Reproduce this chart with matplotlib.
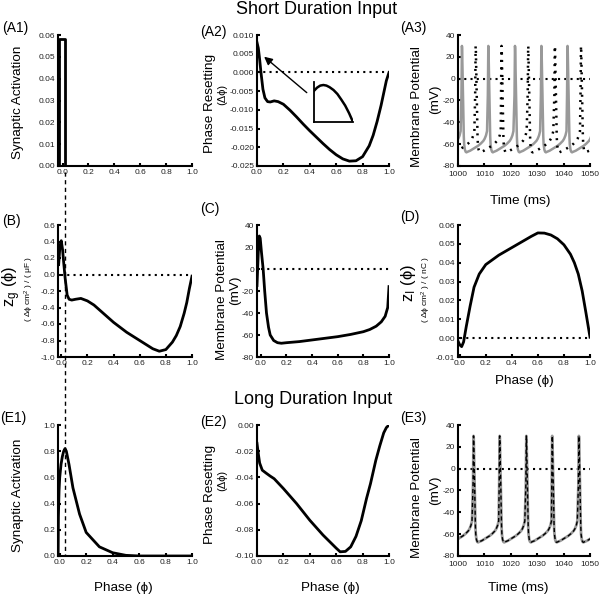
import matplotlib
matplotlib.use('Agg')
import matplotlib.pyplot as plt
from matplotlib.lines import Line2D

plt.rcParams['font.family'] = ['Liberation Sans', 'DejaVu Sans']
plt.rcParams['axes.unicode_minus'] = False
plt.rcParams['mathtext.fontset'] = 'custom'
plt.rcParams['mathtext.rm'] = 'Liberation Sans'
plt.rcParams['mathtext.it'] = 'Liberation Sans'

# ---------------- data ----------------
phase_ticks = [0.0, 0.2, 0.4, 0.6, 0.8, 1.0]
time_ticks = [1000, 1010, 1020, 1030, 1040, 1050]
mv_ticks = [-80, -60, -40, -20, 0, 20, 40]

# A1 short synaptic activation (pulse)
a1_phase = [-0.03, -0.03, 0.02, 0.02, 1.0]
a1_act = [0.0, 0.058, 0.058, 0.0, 0.0]
a1_yticks = [0.00, 0.01, 0.02, 0.03, 0.04, 0.05, 0.06]

# A2 phase resetting (short)
a2_phase = [0.0, 0.01, 0.02, 0.03, 0.045, 0.06, 0.08, 0.1, 0.13, 0.16, 0.2, 0.25,
            0.3, 0.35, 0.4, 0.45, 0.5, 0.55, 0.6, 0.65, 0.7, 0.75, 0.8, 0.85,
            0.88, 0.91, 0.94, 0.96, 0.98, 1.0]
a2_reset = [0.008, 0.0065, 0.0035, 0.0, -0.0045, -0.0068, -0.0078, -0.0079, -0.0076,
            -0.0078, -0.0085, -0.0101, -0.0119, -0.0138, -0.0156, -0.0173, -0.019,
            -0.0206, -0.022, -0.0231, -0.0237, -0.0236, -0.0225, -0.0196, -0.0168,
            -0.0131, -0.0088, -0.0055, -0.0022, 0.0]
a2_yticks = [-0.025, -0.020, -0.015, -0.010, -0.005, 0.000, 0.005, 0.010]

# inset sketch in A2
inset_x = [0.0, 0.08, 0.16, 0.24, 0.32, 0.4, 0.5, 0.6, 0.7, 0.8, 0.9, 1.0]
inset_y = [0.78, 0.86, 0.91, 0.925, 0.91, 0.87, 0.8, 0.7, 0.56, 0.41, 0.22, 0.0]

# B z_g(phi)
b_phase = [-0.02, -0.01, 0.0, 0.01, 0.02, 0.03, 0.045, 0.06, 0.08, 0.11, 0.15, 0.2,
           0.25, 0.3, 0.35, 0.4, 0.45, 0.5, 0.55, 0.6, 0.65, 0.7, 0.75, 0.8, 0.85,
           0.88, 0.91, 0.94, 0.96, 0.98, 1.0]
b_zg = [0.12, 0.35, 0.41, 0.3, 0.12, -0.05, -0.25, -0.3, -0.31, -0.3, -0.29, -0.32,
        -0.37, -0.44, -0.51, -0.58, -0.64, -0.7, -0.75, -0.8, -0.85, -0.9, -0.93,
        -0.91, -0.82, -0.74, -0.63, -0.47, -0.34, -0.17, -0.02]
b_yticks = [-1.0, -0.8, -0.6, -0.4, -0.2, 0.0, 0.2, 0.4, 0.6]

# C membrane potential over one cycle
c_phase = [-0.03, -0.02, -0.012, -0.005, 0.005, 0.018, 0.03, 0.044, 0.06, 0.073,
           0.1, 0.13, 0.16, 0.2, 0.3, 0.4, 0.5, 0.6, 0.7, 0.8, 0.85, 0.9, 0.94,
           0.97, 0.99, 1.0]
c_mv = [-15, 15, 30, 28, 15, 0, -20, -40, -53, -60, -65, -67, -67.5, -67, -66,
        -64.5, -63, -61.5, -59.5, -57, -55, -52, -48, -43, -35, -16]

# D z_I(phi)
d_phase = [-0.01, 0.0, 0.015, 0.03, 0.05, 0.08, 0.11, 0.15, 0.2, 0.25, 0.3, 0.35,
           0.4, 0.45, 0.5, 0.55, 0.6, 0.65, 0.7, 0.75, 0.8, 0.85, 0.88, 0.91,
           0.94, 0.97, 1.0]
d_zi = [-0.002, -0.0035, -0.0045, -0.002, 0.006, 0.017, 0.027, 0.034, 0.039, 0.0415,
        0.044, 0.046, 0.048, 0.050, 0.052, 0.054, 0.0558, 0.0557, 0.0547, 0.0527,
        0.0495, 0.0445, 0.040, 0.034, 0.025, 0.013, 0.0005]
d_yticks = [-0.01, 0.00, 0.01, 0.02, 0.03, 0.04, 0.05, 0.06]

# E1 long synaptic activation
e1_phase = [-0.012, -0.01, -0.005, 0.0, 0.01, 0.02, 0.03, 0.04, 0.05, 0.07, 0.1,
            0.15, 0.2, 0.3, 0.4, 0.5, 0.6, 1.0]
e1_act = [0.0, 0.3, 0.5, 0.6, 0.7, 0.76, 0.8, 0.82, 0.8, 0.7, 0.52, 0.32, 0.18,
          0.07, 0.025, 0.005, 0.0, 0.0]
e1_yticks = [0.0, 0.2, 0.4, 0.6, 0.8, 1.0]

# E2 phase resetting (long)
e2_phase = [0.0, 0.01, 0.02, 0.04, 0.07, 0.1, 0.13, 0.2, 0.3, 0.4, 0.5, 0.55,
            0.6, 0.63, 0.67, 0.71, 0.75, 0.79, 0.83, 0.86, 0.9, 0.93, 0.96, 0.98, 1.0]
e2_reset = [-0.014, -0.022, -0.029, -0.0345, -0.0368, -0.039, -0.041, -0.0485, -0.06,
            -0.0727, -0.084, -0.089, -0.094, -0.0968, -0.0965, -0.093, -0.085,
            -0.073, -0.056, -0.0447, -0.027, -0.016, -0.006, -0.002, 0.0]
e2_yticks = [-0.10, -0.08, -0.06, -0.04, -0.02, 0.00]

# cycle start times (ms) of membrane potential traces, period in ms
period_ms = 10.0
a3_gray_starts = [991.6, 1001.6, 1011.6, 1021.7, 1031.7, 1041.6]
a3_dot_starts = [996.8, 1006.8, 1016.6, 1026.7, 1036.8, 1046.7]
e3_starts = [995.9, 1006.0, 1015.9, 1026.0, 1035.8, 1045.9]


def build_trace(starts):
    t, v = [], []
    for s in starts:
        for p, mv in zip(c_phase, c_mv):
            if p < 0.97:
                t.append(s + p * period_ms)
                v.append(mv)
    return t, v


# ---------------- figure ----------------
W, H = 600, 597
fig = plt.figure(figsize=(6.0, 5.97), dpi=100)

cols = [(58, 192), (257, 389), (458, 590)]
rows = [(35, 166), (225, 357), (425, 556)]


def make_ax(c, r):
    x0, x1 = cols[c]
    y0, y1 = rows[r]
    ax = fig.add_axes([x0 / W, 1 - y1 / H, (x1 - x0) / W, (y1 - y0) / H])
    for s in ['top', 'right']:
        ax.spines[s].set_visible(False)
    for s in ['left', 'bottom']:
        ax.spines[s].set_linewidth(1.5)
    ax.tick_params(direction='in', length=2.5, width=1.5, labelsize=6,
                   pad=2, colors='black', labelcolor='#222222')
    return ax


def ftext(x, y, s, **kw):
    fig.text(x / W, 1 - y / H, s, **kw)


LW = 2.0
ZERO = dict(color='black', lw=1.5, ls=(0, (1, 2)))

# A1
ax = make_ax(0, 0)
ax.plot(a1_phase, a1_act, color='black', lw=LW)
ax.set_xlim(-0.035, 1.0)
ax.set_ylim(0, 0.06)
ax.set_xticks(phase_ticks)
ax.set_xticklabels([f'{v:.1f}' for v in phase_ticks])
ax.set_yticks(a1_yticks)
ax.set_yticklabels([f'{v:.2f}' for v in a1_yticks])

# A2
ax = make_ax(1, 0)
ax.plot([0, 1.0], [0, 0], **ZERO)
ax.plot(a2_phase, a2_reset, color='black', lw=LW)
ax.set_xlim(0, 1.0)
ax.set_ylim(-0.025, 0.010)
ax.set_xticks(phase_ticks)
ax.set_xticklabels([f'{v:.1f}' for v in phase_ticks])
ax.set_yticks(a2_yticks)
ax.set_yticklabels([f'{v:.3f}' for v in a2_yticks])
ax.annotate('', xy=(0.054, 0.0042), xytext=(0.377, -0.0054),
            arrowprops=dict(arrowstyle='-|>', color='black', lw=1.0,
                            mutation_scale=12, shrinkA=0, shrinkB=0))
ins = fig.add_axes([314 / W, 1 - 122 / H, 39 / W, 40 / H])
ins.plot(inset_x, inset_y, color='black', lw=1.8)
ins.set_xlim(0, 1)
ins.set_ylim(0, 1)
ins.set_xticks([])
ins.set_yticks([])
ins.patch.set_alpha(0)
for s in ['top', 'right']:
    ins.spines[s].set_visible(False)
for s in ['left', 'bottom']:
    ins.spines[s].set_linewidth(1.3)

# A3
ax = make_ax(2, 0)
ax.plot([1000, 1050], [0, 0], **ZERO)
tg, vg = build_trace(a3_gray_starts)
ax.plot(tg, vg, color='#999999', lw=1.8)
td, vd = build_trace(a3_dot_starts)
ax.plot(td, vd, color='black', lw=1.8, ls=(0, (0.8, 2.2)))
ax.set_xlim(1000, 1050)
ax.set_ylim(-80, 40)
ax.set_xticks(time_ticks)
ax.set_yticks(mv_ticks)
ax.tick_params(axis='x', pad=3.5)

# B
ax = make_ax(0, 1)
ax.plot([0, 1.0], [0, 0], **ZERO)
ax.plot(b_phase, b_zg, color='black', lw=LW)
ax.set_xlim(-0.025, 1.0)
ax.set_ylim(-1.0, 0.6)
ax.set_xticks(phase_ticks)
ax.set_xticklabels([f'{v:.1f}' for v in phase_ticks])
ax.set_yticks(b_yticks)
ax.set_yticklabels([f'{v:.1f}' for v in b_yticks])

# C
ax = make_ax(1, 1)
ax.plot([0, 1.0], [0, 0], **ZERO)
ax.plot(c_phase, c_mv, color='black', lw=LW)
ax.set_xlim(-0.03, 1.0)
ax.set_ylim(-80, 40)
ax.set_xticks(phase_ticks)
ax.set_xticklabels([f'{v:.1f}' for v in phase_ticks])
ax.set_yticks(mv_ticks)

# D
ax = make_ax(2, 1)
ax.plot([0, 1.0], [0, 0], **ZERO)
ax.plot(d_phase, d_zi, color='black', lw=LW)
ax.set_xlim(-0.013, 1.0)
ax.set_ylim(-0.01, 0.06)
ax.set_xticks(phase_ticks)
ax.set_xticklabels([f'{v:.1f}' for v in phase_ticks])
ax.set_yticks(d_yticks)
ax.set_yticklabels([f'{v:.2f}' for v in d_yticks])

# E1
ax = make_ax(0, 2)
ax.plot(e1_phase, e1_act, color='black', lw=LW)
ax.set_xlim(-0.013, 1.0)
ax.set_ylim(0, 1.0)
ax.set_xticks(phase_ticks)
ax.set_xticklabels([f'{v:.1f}' for v in phase_ticks])
ax.set_yticks(e1_yticks)
ax.set_yticklabels([f'{v:.1f}' for v in e1_yticks])

# E2
ax = make_ax(1, 2)
ax.plot(e2_phase, e2_reset, color='black', lw=LW)
ax.set_xlim(0, 1.0)
ax.set_ylim(-0.10, 0.0)
ax.set_xticks(phase_ticks)
ax.set_xticklabels([f'{v:.1f}' for v in phase_ticks])
ax.set_yticks(e2_yticks)
ax.set_yticklabels([f'{v:.2f}' for v in e2_yticks])

# E3
ax = make_ax(2, 2)
ax.plot([1000, 1050], [0, 0], **ZERO)
te, ve = build_trace(e3_starts)
ax.plot(te, ve, color='#999999', lw=2.0)
ax.plot(te, ve, color='black', lw=1.0, ls=(0, (3, 2)))
ax.set_xlim(1000, 1050)
ax.set_ylim(-80, 40)
ax.set_xticks(time_ticks)
ax.set_yticks(mv_ticks)
ax.tick_params(axis='x', pad=3.5)

# vertical dashed guide line across panels
fig.add_artist(Line2D([65 / W, 65 / W], [1 - 172 / H, 1 - 556 / H],
                      color='black', lw=1.0, ls=(0, (3, 2.5))))

# ---------------- texts ----------------
LAB = 9.7
ftext(317, 10, 'Short Duration Input', fontsize=13, ha='center', va='center')
ftext(313, 400, 'Long Duration Input', fontsize=13, ha='center', va='center')

panel = [('(A1)', 2, 28), ('(A2)', 200, 32), ('(A3)', 400, 28),
         ('(B)', 2, 221), ('(C)', 200, 209), ('(D)', 400, 217),
         ('(E1)', 0, 418), ('(E2)', 200, 422), ('(E3)', 400, 418)]
for s, x, y in panel:
    ftext(x, y, s, fontsize=10, ha='left', va='center')

# y labels
ftext(18, 102, 'Synaptic Activation', fontsize=LAB, rotation=90, ha='center', va='center')
ftext(18, 495, 'Synaptic Activation', fontsize=LAB, rotation=90, ha='center', va='center')
ftext(210, 103, 'Phase Resetting', fontsize=LAB, rotation=90, ha='center', va='center')
ftext(222, 94, '(Δϕ)', fontsize=8, rotation=90, ha='center', va='center')
ftext(210, 494, 'Phase Resetting', fontsize=LAB, rotation=90, ha='center', va='center')
ftext(222, 480, '(Δϕ)', fontsize=8, rotation=90, ha='center', va='center')
for (x1, y1, x2, y2) in [(417, 107, 435, 99), (222, 300, 235, 290), (417, 498, 435, 490)]:
    ftext(x1, y1, 'Membrane Potential', fontsize=LAB, rotation=90, ha='center', va='center')
    ftext(x2, y2, '(mV)', fontsize=LAB, rotation=90, ha='center', va='center')
ftext(12, 286, r'z$_{\mathregular{g}}$ (ϕ)', fontsize=12, rotation=90, ha='center', va='center')
ftext(29, 289, '( Δϕ cm$^{2}$ ) / ( μF )', fontsize=6, rotation=90, ha='center', va='center')
ftext(409, 283, r'z$_{\mathregular{I}}$ (ϕ)', fontsize=12, rotation=90, ha='center', va='center')
ftext(426, 290, '( Δϕ cm$^{2}$ ) / ( nC )', fontsize=6, rotation=90, ha='center', va='center')

# x labels
ftext(520, 201, 'Time (ms)', fontsize=LAB, ha='center', va='center')
ftext(524, 381, 'Phase (ϕ)', fontsize=LAB, ha='center', va='center')
ftext(123, 588, 'Phase (ϕ)', fontsize=LAB, ha='center', va='center')
ftext(330, 588, 'Phase (ϕ)', fontsize=LAB, ha='center', va='center')
ftext(518, 588, 'Time (ms)', fontsize=LAB, ha='center', va='center')

fig.savefig('out.png', dpi=100)
